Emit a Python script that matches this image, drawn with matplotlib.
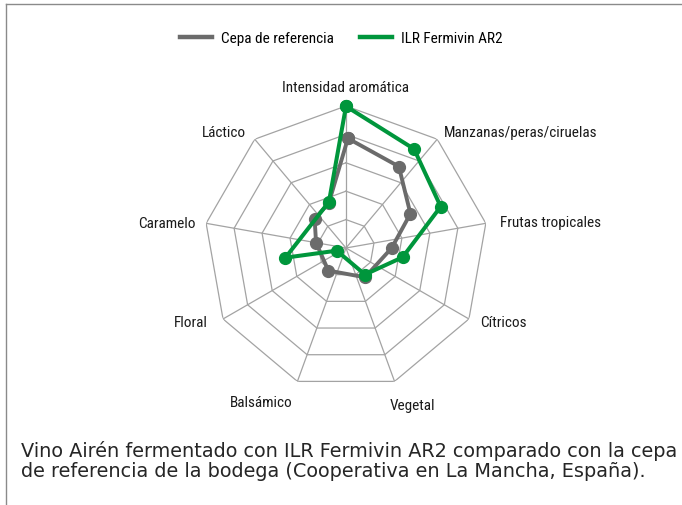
import numpy as np
import matplotlib.pyplot as plt
from matplotlib.lines import Line2D

# axis labels, clockwise from the top
categories = [
    "Intensidad aromática",
    "Manzanas/peras/ciruelas",
    "Frutas tropicales",
    "Cítricos",
    "Vegetal",
    "Balsámico",
    "Floral",
    "Caramelo",
    "Láctico",
]

# the plotted points do not sit exactly on the spokes in the original,
# so each point keeps its own angle (deg, clockwise from top) and value (0-5)
ref_angles = [1, 33, 62, 90, 147, 218, 280, 313, 339]
ref_values = [3.86, 3.42, 2.57, 1.61, 1.23, 1.01, 1.07, 1.51, 1.69]

ilr_angles = [0, 34.5, 66.4, 99.3, 144.4, 253.8, 260.9, 339.7]
ilr_values = [4.99, 4.23, 3.64, 2.02, 1.15, 0.34, 2.16, 1.73]

series_names = ["Cepa de referencia", "ILR Fermivin AR2"]

GREEN = "#00963c"
GREY = "#6b6b6b"
GRID = "#a3a3a3"

LABEL_FONT = ["Liberation Sans Narrow", "Roboto Condensed", "DejaVu Sans Condensed", "Roboto", "DejaVu Sans"]

# label placement: (angle deg, radius, ha)
label_pos = [
    (0, 5.66, "center"),
    (40.2, 5.35, "left"),
    (80.5, 5.50, "left"),
    (119.0, 5.39, "left"),
    (157.2, 6.00, "center"),
    (208.8, 6.20, "center"),
    (241.8, 5.54, "right"),
    (279.4, 5.35, "right"),
    (319.2, 5.39, "right"),
]


def close(a, v):
    a = np.deg2rad(list(a) + [a[0]])
    v = list(v) + [v[0]]
    return a, v


def main():
    fig = plt.figure(figsize=(6.82, 5.06), dpi=100)

    ax = fig.add_axes([0.2991, 0.2273, 0.4164, 0.5613], projection="polar")
    ax.set_theta_zero_location("N")
    ax.set_theta_direction(-1)
    ax.set_ylim(0, 5)
    ax.grid(False)
    ax.spines["polar"].set_visible(False)
    ax.set_xticks([])
    ax.set_yticks([])
    ax.patch.set_alpha(0)

    n = len(categories)
    spokes = np.arange(n) * 2 * np.pi / n
    # polygon rings + spokes
    for level in range(1, 6):
        ax.plot(np.append(spokes, spokes[0]), [level] * (n + 1),
                color=GRID, lw=0.9, zorder=1)
    for t in spokes:
        ax.plot([t, t], [0, 5], color=GRID, lw=0.9, zorder=1)

    a, v = close(ref_angles, ref_values)
    ax.plot(a, v, color=GREY, lw=2.8, marker="o", ms=8.5, zorder=3,
            clip_on=False)
    a, v = close(ilr_angles, ilr_values)
    ax.plot(a, v, color=GREEN, lw=2.9, marker="o", ms=8.5, zorder=4,
            clip_on=False)

    for name, (ang, r, ha) in zip(categories, label_pos):
        ax.text(np.deg2rad(ang), r, name, ha=ha, va="center",
                fontsize=11, family=LABEL_FONT, color="#1a1a1a")

    handles = [Line2D([], [], color=GREY, lw=3.2),
               Line2D([], [], color=GREEN, lw=3.2)]
    fig.legend(handles, series_names, loc="center", bbox_to_anchor=(0.5, 0.922),
               ncol=2, frameon=False, handlelength=2.1, handletextpad=0.6,
               columnspacing=1.7, prop={"family": LABEL_FONT, "size": 11})

    fig.text(0.031, 0.089,
             "Vino Airén fermentado con ILR Fermivin AR2 comparado con la cepa\n"
             "de referencia de la bodega (Cooperativa en La Mancha, España).",
             ha="left", va="center", fontsize=13.85, family="DejaVu Sans",
             color="#262626", linespacing=1.1)

    # partial frame (top and left edges)
    fig.add_artist(Line2D([6 / 682, 1], [1 - 5 / 506] * 2,
                          transform=fig.transFigure, color="#8a8a8a", lw=1.0))
    fig.add_artist(Line2D([6 / 682] * 2, [0, 1 - 5 / 506],
                          transform=fig.transFigure, color="#8a8a8a", lw=1.0))

    fig.savefig("out.png", dpi=100)
    plt.close(fig)


if __name__ == "__main__":
    main()
